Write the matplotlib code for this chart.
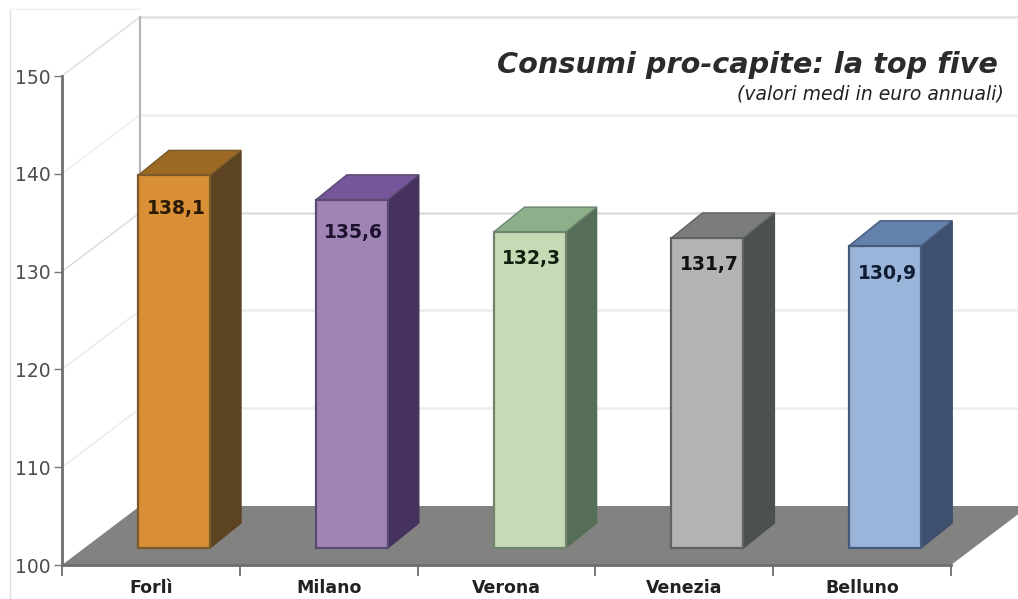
"""
    Consumi pro-capite: fake 3D bars on a 2D axes
"""

import matplotlib
matplotlib.use('Agg')
import matplotlib.pyplot as plt
from matplotlib.patches import Polygon
from matplotlib.lines import Line2D

cities = ['Forlì', 'Milano', 'Verona', 'Venezia', 'Belluno']
values = [138.1, 135.6, 132.3, 131.7, 130.9]
value_labels = ['138,1', '135,6', '132,3', '131,7', '130,9']
y_ticks = [100, 110, 120, 130, 140, 150]

front_colors = ['#d98f35', '#9f84b5', '#c5dab5', '#b3b3b1', '#9ab4da']
side_colors = ['#5c4423', '#46325f', '#566e57', '#4a5150', '#3f506f']
top_colors = ['#9c6a25', '#76569a', '#8db08a', '#7b7d7b', '#6480ad']
edge_colors = ['#7a5a2a', '#5b4a70', '#6f8570', '#5e6362', '#465a7c']
text_colors = ['#2a1a05', '#1e1230', '#10200f', '#111111', '#0f1c33']
wall_grid_colors = ['#ececea', '#ececea', '#ececea', '#dedede', '#f0f0ee', '#e2e2e0']
label_drop_px = [33, 33, 26, 27, 28]

W, H = 1018, 599
fig = plt.figure(figsize=(W / 100, H / 100), dpi=100)
ax = fig.add_axes([62 / W, 1 - 565 / H, 889 / W, 489 / H])
ax.set_xlim(0, 5)
ax.set_ylim(100, 150)

# pixels to data units
px = 5 / 889
py = 50 / 489

wall_dx = 78 * px
wall_dy = 59 * py
bar_dx = 31 * px
bar_dy = 25 * py
bar_width = 72 * px
bar_left = 76 * px
base = 100 + 17 * py
x_end = 6


# back wall and side wall grid
for t, c in zip(y_ticks[1:], wall_grid_colors[1:]):
    ax.plot([wall_dx, x_end], [t + wall_dy, t + wall_dy], color=c, lw=1.8,
            clip_on=False, zorder=1)
    ax.plot([0, wall_dx], [t, t + wall_dy], color=c, lw=1.2,
            clip_on=False, zorder=1)
ax.plot([wall_dx, wall_dx], [100 + wall_dy, 150 + wall_dy], color='#b5b5b5', lw=1.6,
        clip_on=False, zorder=1)

# floor
floor = [(0, 100), (wall_dx, 100 + wall_dy), (5 + wall_dx, 100 + wall_dy), (5, 100)]
ax.add_patch(Polygon(floor, closed=True, facecolor='#828381', edgecolor='none',
                     clip_on=False, zorder=2))

# bars
for i, v in enumerate(values):
    left = i + bar_left
    right = left + bar_width
    top = base + v - 100
    ax.bar(left, v - 100, width=bar_width, bottom=base, align='edge', color=front_colors[i],
           edgecolor=edge_colors[i], linewidth=1.6, zorder=4)
    ax.add_patch(Polygon([(right, base), (right + bar_dx, base + bar_dy),
                          (right + bar_dx, top + bar_dy), (right, top)],
                         closed=True, facecolor=side_colors[i], edgecolor=side_colors[i],
                         linewidth=1, zorder=3, clip_on=False))
    ax.add_patch(Polygon([(left, top), (left + bar_dx, top + bar_dy),
                          (right + bar_dx, top + bar_dy), (right, top)],
                         closed=True, facecolor=top_colors[i], edgecolor=edge_colors[i],
                         linewidth=1, zorder=3, clip_on=False))
    ax.text(left + bar_width / 2 + 2 * px, top - label_drop_px[i] * py, value_labels[i],
            ha='center', va='center', fontsize=13.5, fontweight='bold',
            color=text_colors[i], zorder=5)

# axes
for s in ['top', 'right']:
    ax.spines[s].set_visible(False)
for s in ['left', 'bottom']:
    ax.spines[s].set_color('#6e6e6e')
    ax.spines[s].set_linewidth(2)
    ax.spines[s].set_zorder(6)

ax.set_yticks(y_ticks)
ax.tick_params(axis='y', length=6, width=1, color='#777777', labelcolor='#4d4d4d',
               labelsize=13.5, pad=2)
ax.set_xticks(range(6))
ax.set_xticklabels([])
ax.tick_params(axis='x', which='major', length=8, width=1.4, color='#777777')
ax.set_xticks([i + 0.5 for i in range(5)], minor=True)
ax.set_xticklabels(cities, minor=True, fontsize=12.5, fontweight='bold', color='#222222')
ax.tick_params(axis='x', which='minor', length=0, pad=10)

# title
fig.text(998 / W, 1 - 65 / H, 'Consumi pro-capite: la top five', ha='right', va='center',
         fontsize=20.7, fontweight='bold', fontstyle='italic', color='#2b2b2b')
fig.text(1004 / W, 1 - 94 / H, '(valori medi in euro annuali)', ha='right', va='center',
         fontsize=13.5, fontstyle='italic', color='#222222')

# thin frame of the page
fig.add_artist(Line2D([10 / W, 10 / W], [0, 1 - 9 / H], color='#dcdcdc', lw=1))
fig.add_artist(Line2D([10 / W, 140 / W], [1 - 9 / H, 1 - 9 / H], color='#f2f2f2', lw=1))

fig.savefig('out.png', dpi=100)
